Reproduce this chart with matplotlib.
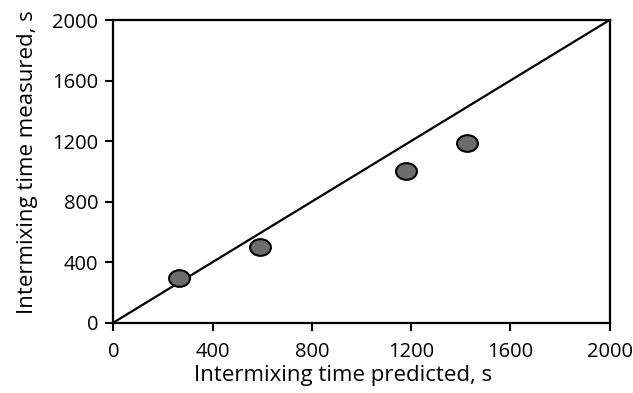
import numpy as np
import matplotlib
matplotlib.use("Agg")
import matplotlib.pyplot as plt
from matplotlib.path import Path
from matplotlib.transforms import Affine2D

plt.rcParams["font.family"] = ["Open Sans", "DejaVu Sans"]

# valores
predicted = [263, 592, 1179, 1427]
measured = [293, 502, 1003, 1188]
ticks = [0, 400, 800, 1200, 1600, 2000]
line_x = [0, 2000]
line_y = [0, 2000]

# marcador levemente elíptico (mais largo que alto)
ellipse = Path.unit_circle().transformed(Affine2D().scale(1.0, 0.8))

fig = plt.figure(figsize=(6.33, 3.93), dpi=100)
ax = fig.add_axes([0.179, 0.179, 0.784, 0.770])

ax.plot(line_x, line_y, color="black", lw=1.6, zorder=2)
ax.plot(predicted, measured, linestyle="none", marker=ellipse, markersize=15,
        markerfacecolor="#6c6c6c", markeredgecolor="black", markeredgewidth=1.5,
        zorder=3)

ax.set_xlim(0, 2000)
ax.set_ylim(0, 2000)
ax.set_xticks(ticks)
ax.set_yticks(ticks)
ax.tick_params(direction="out", length=6, width=1.5, labelsize=14.5, colors="black")
ax.tick_params(axis="x", pad=8)
ax.tick_params(axis="y", pad=5)
for sp in ax.spines.values():
    sp.set_linewidth(1.6)

ax.set_xlabel("Intermixing time predicted, s", fontsize=16, labelpad=2)
ax.set_ylabel("Intermixing time measured, s", fontsize=16, labelpad=10)
# no original os rótulos não estão centrados no eixo
ax.xaxis.label.set_x(0.463)
ax.yaxis.label.set_y(0.53)

fig.savefig("out.png", dpi=100)
